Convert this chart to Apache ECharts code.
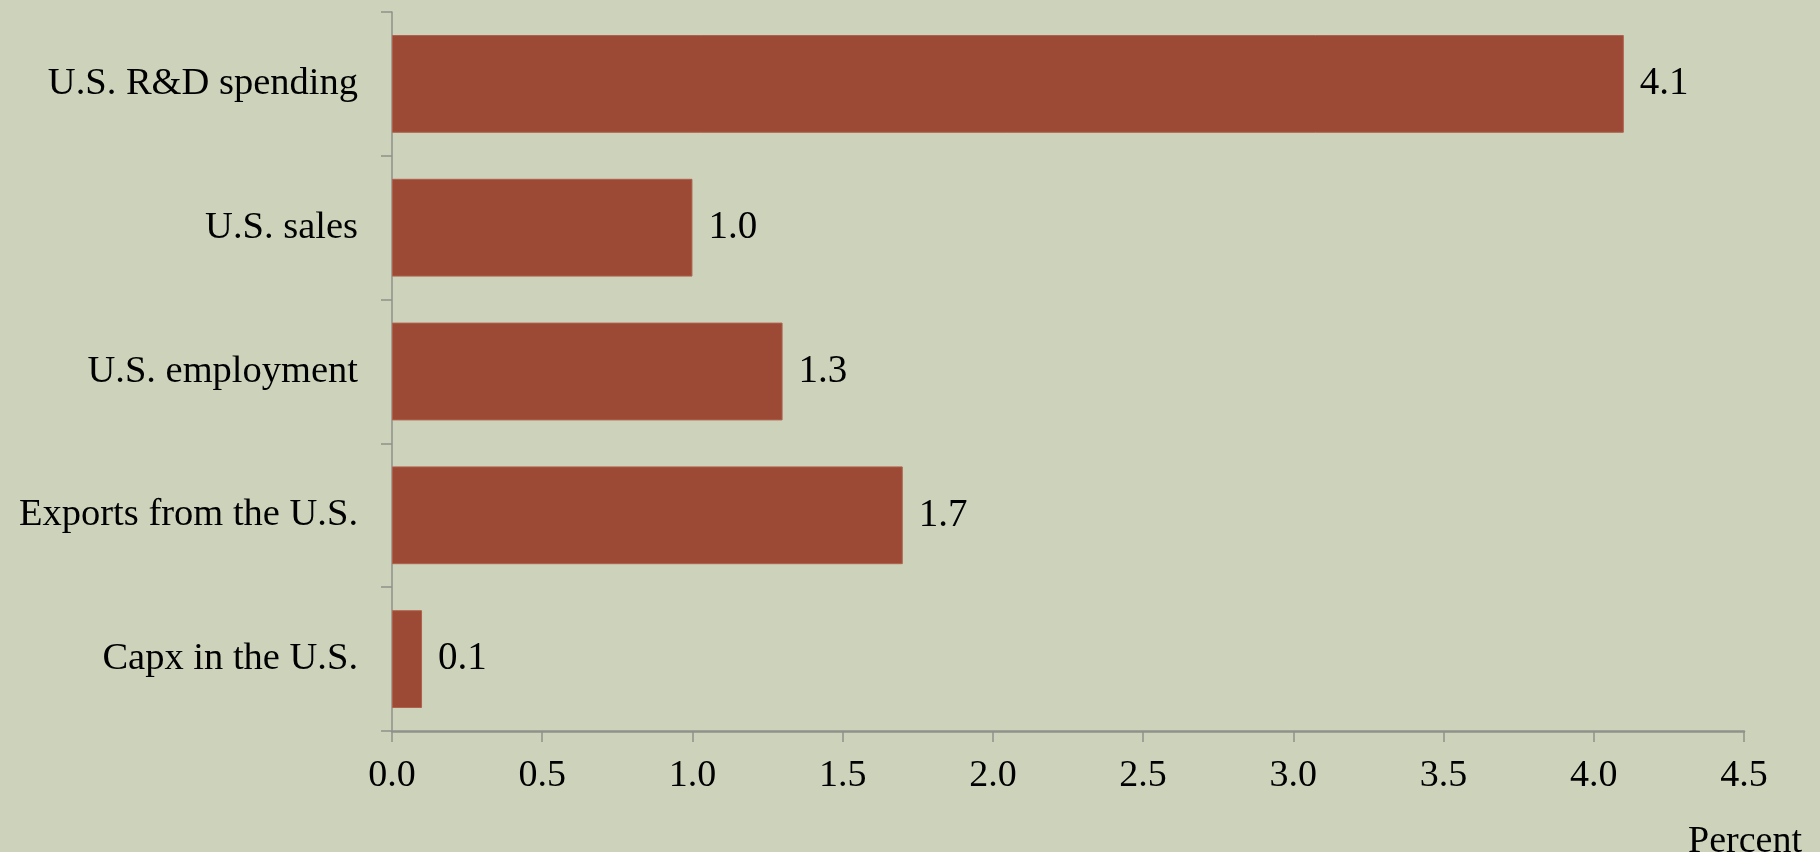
<!DOCTYPE html>
<html>
<head>
<meta charset="utf-8">
<script src="https://cdn.jsdelivr.net/npm/echarts@6/dist/echarts.min.js"></script>
<style>
html,body{margin:0;padding:0;background:#cdd3bb;}
#c{width:1820px;height:852px;}
</style>
</head>
<body>
<div id="c"></div>
<script>
const categories = ["U.S. R&D spending", "U.S. sales", "U.S. employment", "Exports from the U.S.", "Capx in the U.S."];
const values = [4.1, 1.0, 1.3, 1.7, 0.1];
const xTicks = [0, 0.5, 1.0, 1.5, 2.0, 2.5, 3.0, 3.5, 4.0, 4.5];
const unitLabel = "Percent";

const font = "'Liberation Serif', 'DejaVu Serif', serif";
const chart = echarts.init(document.getElementById('c'));
chart.setOption({
  backgroundColor: '#cdd3bb',
  animation: false,
  title: {
    text: unitLabel,
    right: 13,
    top: 818,
    textStyle: { fontFamily: font, fontSize: 38, fontWeight: 'normal', color: '#000' }
  },
  grid: { left: 392, right: 76, top: 12, bottom: 121, containLabel: false },
  xAxis: {
    type: 'value',
    min: xTicks[0],
    max: xTicks[xTicks.length - 1],
    interval: 0.5,
    axisLine: { show: true, lineStyle: { color: '#8f918a', width: 2.5 } },
    axisTick: { show: true, length: 11, lineStyle: { color: '#8f918a', width: 1.5 } },
    splitLine: { show: false },
    axisLabel: {
      margin: 26,
      fontFamily: font, fontSize: 38, color: '#000',
      formatter: v => v.toFixed(1)
    }
  },
  yAxis: {
    type: 'category',
    data: categories,
    inverse: true,
    axisLine: { show: true, lineStyle: { color: '#8f918a', width: 1.5 } },
    axisTick: { show: true, length: 11, lineStyle: { color: '#8f918a', width: 1.5 } },
    axisLabel: { margin: 34, fontFamily: font, fontSize: 38.5, color: '#000', padding: [4, 0, 0, 0] }
  },
  series: [{
    type: 'bar',
    data: values,
    barCategoryGap: '32%',
    itemStyle: { color: '#9c4a36', borderColor: '#b0614d', borderWidth: 1 },
    label: {
      show: true,
      position: 'right',
      distance: 16,
      fontFamily: font, fontSize: 39, color: '#000',
      formatter: p => p.value.toFixed(1)
    }
  }]
});
</script>
</body>
</html>
